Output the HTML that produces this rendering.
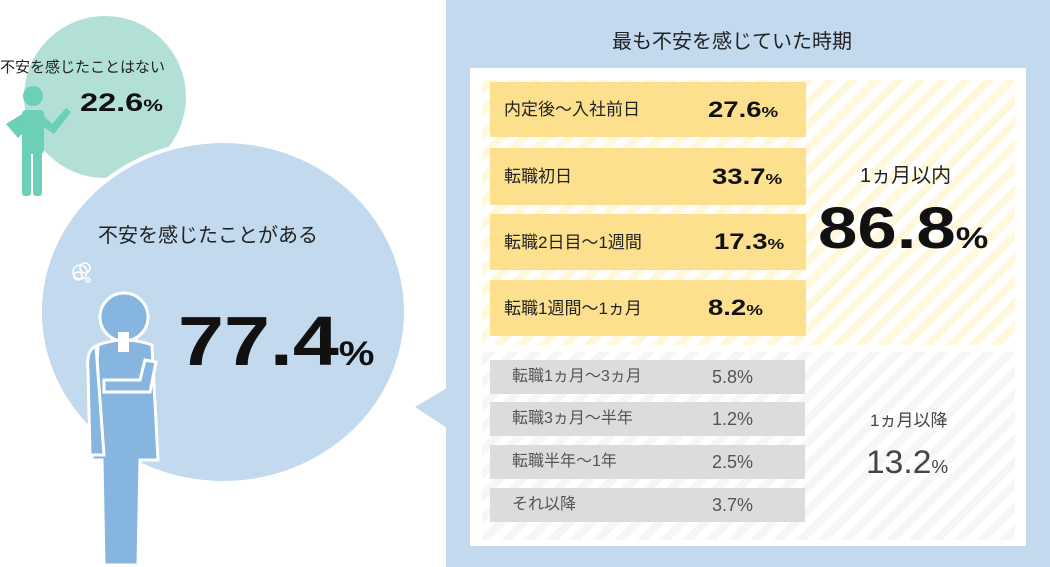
<!DOCTYPE html>
<html><head><meta charset="utf-8"><style>
body{margin:0;width:1050px;height:567px;overflow:hidden;background:#fff;font-family:"Liberation Sans","Noto Sans CJK JP",sans-serif;position:relative}
.a{position:absolute;white-space:nowrap;line-height:1}
.yb,.gb{position:absolute;left:490px;width:316px;display:flex;align-items:center;line-height:1}
.yb{background:#fde08e}
.gb{background:#dcdcdc;width:315px}
.lab{position:absolute;left:14px;font-size:17px;color:#222}
.val{position:absolute;left:218px;font-size:22px;font-weight:bold;color:#111;transform:scaleX(1.25);transform-origin:left center}
.gl{position:absolute;left:22px;font-size:16px;color:#555}
.gv{position:absolute;left:222px;font-size:18px;color:#555}
.w{display:inline-block;transform-origin:left center}
</style></head><body>
<svg class="a" style="left:0;top:0" width="1050" height="567">
<defs>
<pattern id="hy" width="16" height="16" patternUnits="userSpaceOnUse" patternTransform="rotate(45)"><rect width="16" height="16" fill="#fff"/><rect width="8" height="16" fill="#fff8dd"/></pattern>
<pattern id="hg" width="16" height="16" patternUnits="userSpaceOnUse" patternTransform="rotate(45)"><rect width="16" height="16" fill="#fff"/><rect width="8" height="16" fill="#f6f6f6"/></pattern>
</defs>
<circle cx="105" cy="97" r="81" fill="#b2e0d6"/>
<ellipse cx="223" cy="312" rx="185" ry="173" fill="#fff"/>
<ellipse cx="223" cy="312" rx="181" ry="169" fill="#c2d9ee"/>
<rect x="446" y="0" width="604" height="567" fill="#c2d9ee"/>
<polygon points="415,407 447,388 447,428" fill="#c2d9ee"/>
<rect x="470" y="68" width="556" height="478" fill="#fff"/>
<rect x="482" y="80" width="533" height="265" fill="url(#hy)"/>
<rect x="482" y="352" width="533" height="188" fill="url(#hg)"/>
<g fill="#6ccfb8">
<circle cx="33" cy="96" r="10"/>
<rect x="22" y="110" width="22" height="44" rx="4"/>
<rect x="22" y="150" width="9" height="46" rx="3"/><rect x="33" y="150" width="9" height="46" rx="3"/>
<path d="M22 114 L6 124 L18 138 L24 132 Z"/>
<path d="M42 114 L52 124 L66 108 L71 112 L54 134 L42 126Z"/>
</g>
<g fill="#86b5df" stroke="#fff" stroke-width="3">
<circle cx="124" cy="317" r="24"/>
<path d="M98 345 Q124 335 152 345 L158 460 L140 460 L138 565 L104 565 L102 460 L92 460 Z"/>
<path d="M96 346 Q86 350 88 370 L90 455 L104 455 Z"/>
<path d="M104 392 L150 392 L156 362 L145 360 L140 380 L104 380 Z"/>
</g>
<rect x="118" y="332" width="11" height="20" fill="#fff"/>
<g fill="none" stroke="#fff" stroke-width="1.5"><circle cx="80" cy="272" r="7"/><circle cx="85" cy="268" r="5"/><circle cx="78" cy="276" r="4"/><circle cx="88" cy="280" r="2"/></g>
</svg>
<div class="a" style="left:0;top:60px;font-size:15px;color:#222">不安を感じたことはない</div>
<div class="a" style="left:80px;top:91px;font-size:25px;font-weight:bold;color:#111"><span class="w" style="transform:scaleX(1.3)">22.6<span style="font-size:17px">%</span></span></div>
<div class="a" style="left:98px;top:226px;font-size:20px;color:#222">不安を感じたことがある</div>
<div class="a" style="left:178px;top:306px;font-size:70px;font-weight:bold;color:#111"><span class="w" style="transform:scaleX(1.18)">77.4<span style="font-size:34px">%</span></span></div>
<div class="a" style="left:612px;top:32px;font-size:20px;color:#222">最も不安を感じていた時期</div>
<div class="yb" style="top:82px;height:55px"><span class="lab">内定後～入社前日</span><span class="val">27.6<small style="font-size:15px">%</small></span></div>
<div class="yb" style="top:148px;height:57px"><span class="lab">転職初日</span><span class="val" style="left:222px">33.7<small style="font-size:15px">%</small></span></div>
<div class="yb" style="top:214px;height:56px"><span class="lab">転職2日目～1週間</span><span class="val" style="left:224px">17.3<small style="font-size:15px">%</small></span></div>
<div class="yb" style="top:280px;height:56px"><span class="lab">転職1週間～1ヵ月</span><span class="val">8.2<small style="font-size:15px">%</small></span></div>
<div class="gb" style="top:360px;height:34px"><span class="gl">転職1ヵ月～3ヵ月</span><span class="gv">5.8%</span></div>
<div class="gb" style="top:402px;height:34px"><span class="gl">転職3ヵ月～半年</span><span class="gv">1.2%</span></div>
<div class="gb" style="top:445px;height:34px"><span class="gl">転職半年～1年</span><span class="gv">2.5%</span></div>
<div class="gb" style="top:488px;height:34px"><span class="gl">それ以降</span><span class="gv">3.7%</span></div>
<div class="a" style="left:860px;top:166px;font-size:20px;color:#222">1ヵ月以内</div>
<div class="a" style="left:818px;top:200px;font-size:58px;font-weight:bold;color:#111"><span class="w" style="transform:scaleX(1.22)">86.8<span style="font-size:30px">%</span></span></div>
<div class="a" style="left:870px;top:412px;font-size:17px;color:#444">1ヵ月以降</div>
<div class="a" style="left:866px;top:446px;font-size:32px;color:#444"><span class="w" style="transform:scaleX(1.05)">13.2<span style="font-size:18px">%</span></span></div>
</body></html>
